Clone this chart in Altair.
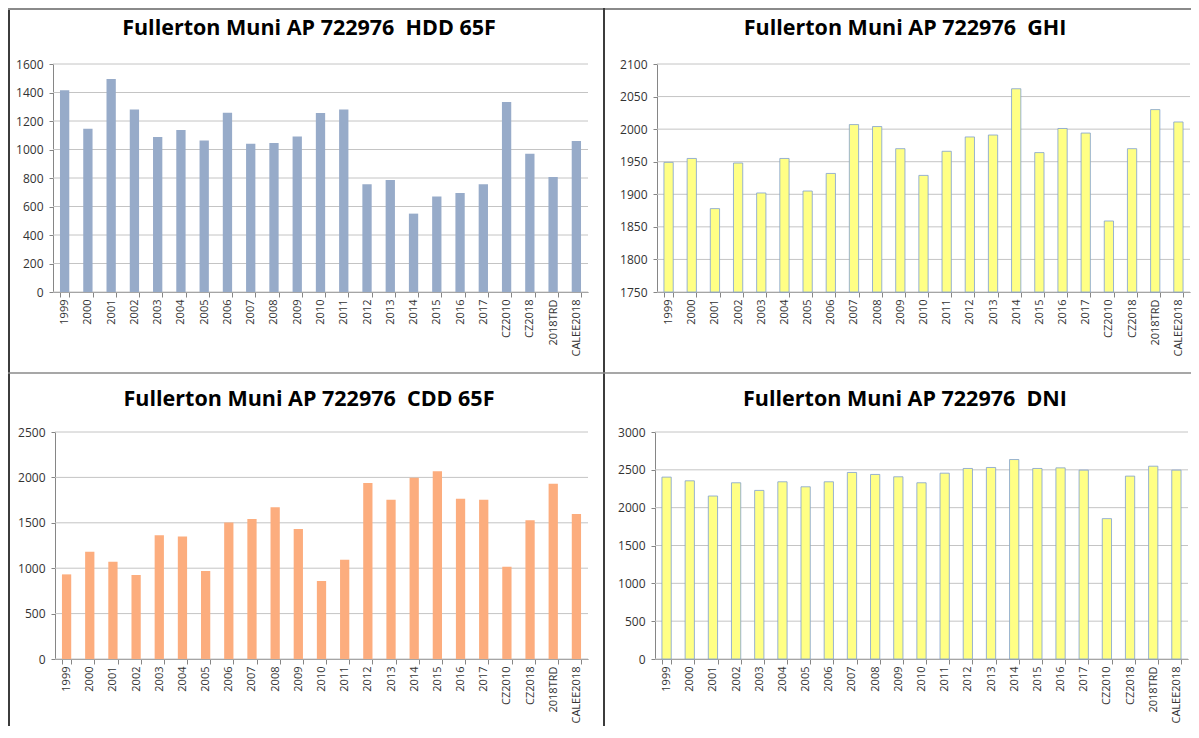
import altair as alt
import pandas as pd

categories = ["1999", "2000", "2001", "2002", "2003", "2004", "2005", "2006", "2007",
              "2008", "2009", "2010", "2011", "2012", "2013", "2014", "2015", "2016",
              "2017", "CZ2010", "CZ2018", "2018TRD", "CALEE2018"]

hdd = [1415, 1146, 1495, 1280, 1088, 1137, 1064, 1258, 1041, 1046, 1092, 1256,
       1280, 756, 786, 550, 671, 695, 756, 1333, 971, 807, 1060]
ghi = [1949, 1955, 1878, 1948, 1902, 1955, 1905, 1932, 2007, 2004, 1970, 1929,
       1966, 1988, 1991, 2062, 1964, 2001, 1994, 1859, 1970, 2030, 2011]
cdd = [932, 1181, 1071, 925, 1363, 1349, 969, 1502, 1542, 1670, 1433, 859,
       1093, 1937, 1754, 1996, 2069, 1765, 1754, 1016, 1528, 1930, 1597]
dni = [2404, 2355, 2154, 2329, 2228, 2342, 2276, 2342, 2465, 2439, 2408, 2329,
       2456, 2518, 2531, 2636, 2518, 2526, 2496, 1855, 2417, 2548, 2496]

hdd_ticks = [0, 200, 400, 600, 800, 1000, 1200, 1400, 1600]
ghi_ticks = [1750, 1800, 1850, 1900, 1950, 2000, 2050, 2100]
cdd_ticks = [0, 500, 1000, 1500, 2000, 2500]
dni_ticks = [0, 500, 1000, 1500, 2000, 2500, 3000]

titles = ["Fullerton Muni AP 722976\u00a0 HDD 65F",
          "Fullerton Muni AP 722976\u00a0 GHI",
          "Fullerton Muni AP 722976\u00a0 CDD 65F",
          "Fullerton Muni AP 722976\u00a0 DNI"]

W, H = 1183, 718
FONT = "Open Sans"


def panel(values, ticks, color, stroke, title, x0, x1, y0, y1, tx, ty):
    df = pd.DataFrame({"cat": categories, "val": values})
    gdf = pd.DataFrame({"v": ticks})
    xs = alt.Scale(domain=categories, range=[x0, x1], paddingInner=0.6, paddingOuter=0.3)
    ys = alt.Scale(domain=[ticks[0], ticks[-1]], range=[y1, y0], zero=False, nice=False)
    xaxis = alt.Axis(orient="bottom", offset=y1 - H, title=None, labelAngle=-90,
                     tickBand="extent", tickSize=5, labelPadding=2,
                     labelFont=FONT, labelFontSize=11, labelColor="#333333",
                     domainColor="#868686", tickColor="#868686", grid=False)
    yaxis = alt.Axis(orient="left", offset=-x0, title=None, values=ticks, format="d",
                     tickSize=4, labelPadding=6, labelFont=FONT, labelFontSize=12,
                     labelColor="#333333", domainColor="#868686",
                     tickColor="#868686", grid=False)
    grid = alt.Chart(gdf).mark_rule(color="#C4C4C4", strokeWidth=1).encode(
        y=alt.Y("v:Q", scale=ys, axis=yaxis),
        x=alt.value(x0), x2=alt.value(x1))
    bars = alt.Chart(df).mark_bar(color=color, stroke=stroke,
                                  strokeWidth=0.8 if stroke else 0).encode(
        x=alt.X("cat:N", sort=categories, scale=xs, axis=xaxis),
        y=alt.Y("val:Q", scale=ys, axis=yaxis),
        y2=alt.datum(ticks[0]))
    ttl = alt.Chart(pd.DataFrame({"t": [title]})).mark_text(
        font=FONT, fontSize=21.5, fontWeight="bold", color="#000000",
        align="center", baseline="middle").encode(
        text="t:N", x=alt.value(tx), y=alt.value(ty))
    return alt.layer(grid, bars, ttl)


def rule(xa, xb, ya, yb, color, width):
    return alt.Chart(pd.DataFrame({"k": [0]})).mark_rule(
        color=color, strokeWidth=width).encode(
        x=alt.value(xa), x2=alt.value(xb), y=alt.value(ya), y2=alt.value(yb))


pA = panel(hdd, hdd_ticks, "#97ABC9", None, titles[0], 45, 580, 56, 284, 301, 21)
pB = panel(ghi, ghi_ticks, "#FFFF85", "#7FA0D0", titles[1], 649, 1182, 56, 284, 897, 21)
pC = panel(cdd, cdd_ticks, "#FCAD7E", None, titles[2], 47, 580, 424, 651, 301, 392)
pD = panel(dni, dni_ticks, "#FFFF85", "#7FA0D0", titles[3], 647, 1180, 424, 651, 897, 392)

frames = [
    rule(1, 1, 0, H, "#3C3C3C", 2),          # left border
    rule(0, W, 1, 1, "#8A8A8A", 2),          # top border
    rule(596, 596, 0, H, "#3C3C3C", 2),      # vertical divider
    rule(0, W, 365, 365, "#8A8A8A", 1.5),    # horizontal divider
]

chart = alt.layer(pA, pB, pC, pD, *frames).resolve_scale(
    x="independent", y="independent"
).properties(
    width=W, height=H, padding=0,
    autosize=alt.AutoSizeParams(type="none"),
    background="#FFFFFF"
).configure_view(stroke=None)

chart.save("out.html", embed_options={"renderer": "svg", "actions": False})
